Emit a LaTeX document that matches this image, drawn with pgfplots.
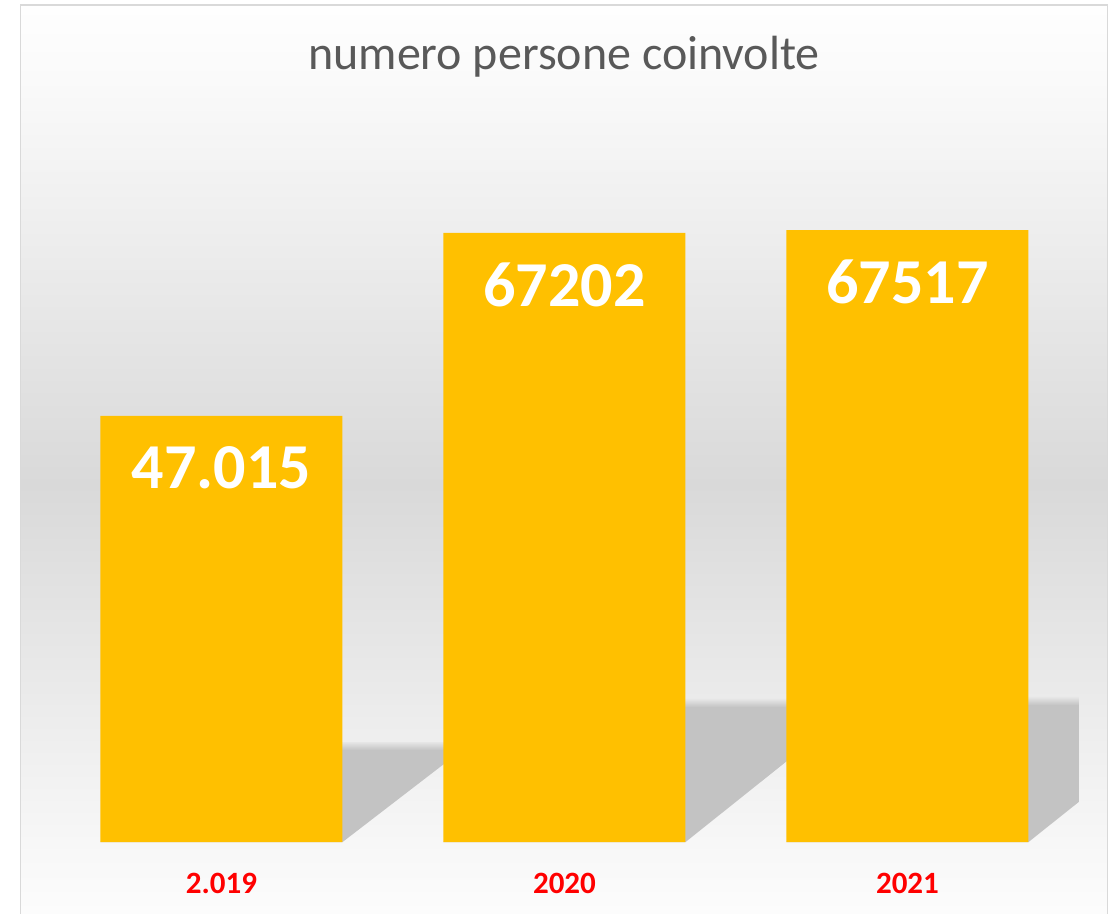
\documentclass[border=0pt]{standalone}
\usepackage{fontspec}
\setmainfont{Carlito}
\usepackage{pgfplots}
\pgfplotsset{compat=1.18}
\definecolor{barcol}{HTML}{FFC000}
\definecolor{tickred}{HTML}{FF0000}
\definecolor{titlegray}{HTML}{595959}
\definecolor{framecol}{HTML}{D9D9D9}
\definecolor{shadowcol}{HTML}{C3C3C3}
\definecolor{shadowfade}{HTML}{E6E6E6}
\definecolor{bgtop}{HTML}{FEFEFE}
\definecolor{bgupper}{HTML}{FAFAFA}
\definecolor{bgmid}{HTML}{D9D9D9}
\definecolor{bglow}{HTML}{F7F7F7}
\definecolor{bgbottom}{HTML}{FCFCFC}
\newcommand{\labfont}{\fontsize{64}{70}\selectfont\bfseries}
\begin{document}
\begin{tikzpicture}[x=1pt,y=1pt]
\useasboundingbox (0,0) rectangle (1113,913);
\fill[white] (0,0) rectangle (1113,913);
% background gradient
\fill[top color=bgtop, bottom color=bgupper] (21,908) rectangle (1107,833);
\fill[top color=bgupper, bottom color=bgmid] (21,833.5) rectangle (1107,428);
\fill[top color=bgmid, bottom color=bglow] (21,428.5) rectangle (1107,71);
\fill[top color=bglow, bottom color=bgbottom] (21,71.5) rectangle (1107,0);
\draw[framecol, line width=1.5pt] (20.5,-5) -- (20.5,908) -- (1107.5,908) -- (1107.5,-5);
% title
\node[anchor=base, text=titlegray, font=\fontsize{48}{54}\selectfont, inner sep=0pt] at (564,843) {numero persone coinvolte};
\begin{axis}[
  at={(50pt,71pt)}, anchor=south west,
  scale only axis, width=1029pt, height=725pt,
  xmin=-0.5, xmax=2.5, ymin=0, ymax=80000,
  axis line style={draw=none},
  major tick style={draw=none},
  ytick=\empty,
  xtick={0,1,2},
  xticklabels={2.019,2020,2021},
  xticklabel style={font=\fontsize{31}{36}\selectfont\bfseries, text=tickred, inner sep=0pt, yshift=-31pt},
]
% floor shadows (solid part)
\addplot[fill=shadowcol, draw=none] coordinates {(-0.353,0) (0.353,0) (0.7017,10152) (-0.0043,10152)};
\addplot[fill=shadowcol, draw=none] coordinates {(0.647,0) (1.353,0) (1.8458,14897) (1.1398,14897)};
\addplot[fill=shadowcol, draw=none] coordinates {(1.647,0) (2.353,0) (2.8537,15117) (2.1477,15117)};
% floor shadows (soft top edge)
\addplot[top color=shadowfade, bottom color=shadowcol, draw=none] coordinates {(-0.0043,10140) (0.7017,10140) (0.732,11035) (0.026,11035)};
\addplot[top color=shadowfade, bottom color=shadowcol, draw=none] coordinates {(1.1398,14885) (1.8458,14885) (1.875,15780) (1.169,15780)};
\addplot[top color=shadowfade, bottom color=shadowcol, draw=none] coordinates {(2.1477,15105) (2.8537,15105) (2.883,16000) (2.177,16000)};
% bars
\addplot[ybar, bar width=242pt, fill=barcol, draw=none] coordinates {(0,47015) (1,67202) (2,67517)};
% labels
\addplot[ybar, bar width=242pt, fill=none, draw=none, point meta=explicit symbolic,
  nodes near coords,
  every node near coord/.style={anchor=center, yshift=-52pt, text=white, font=\labfont}]
  coordinates {(0,47015)[47.015] (1,67202)[67202] (2,67517)[67517]};
\end{axis}
\end{tikzpicture}
\end{document}
